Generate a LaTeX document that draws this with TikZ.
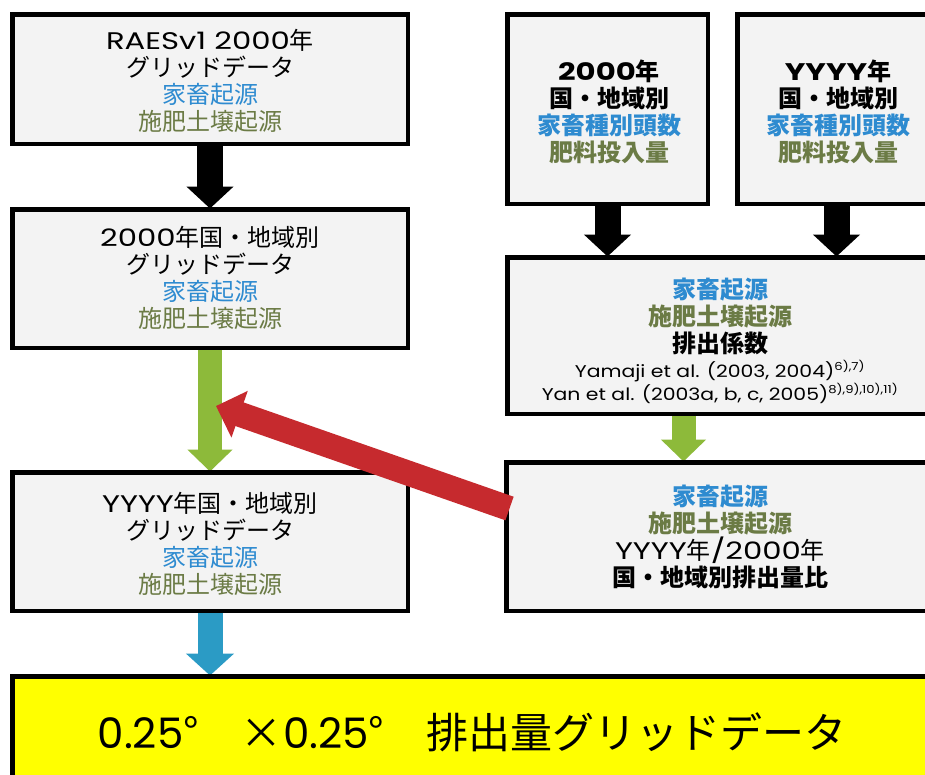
\documentclass[tikz,border=0pt]{standalone}
\usepackage{fontspec}
\usepackage{graphicx}
\setmainfont{Noto Sans CJK JP}
\newfontfamily\latf{Poppins}
\newfontfamily\reff[FakeStretch=1.2]{Poppins}
\newfontfamily\yelf{Poppins}
\newcommand{\lt}[1]{\scalebox{1.28}[1]{\latf #1}}
\usetikzlibrary{arrows.meta,calc}
\definecolor{cblue}{HTML}{2E8BD0}
\definecolor{colive}{HTML}{6B7B45}
\definecolor{boxgray}{HTML}{F3F3F3}
\definecolor{agreen}{HTML}{8DBA3A}
\definecolor{ablue}{HTML}{2B9BC5}
\definecolor{ared}{HTML}{C62A2E}
\definecolor{ayellow}{HTML}{FFFF00}
\newcommand{\bl}[1]{\textcolor{cblue}{#1}}
\newcommand{\ol}[1]{\textcolor{colive}{#1}}
\begin{document}
\begin{tikzpicture}[x=1pt,y=-1pt,
  box/.style={draw=black, line width=3pt, fill=boxgray, align=center, inner sep=0pt,
    font=\fontsize{24}{27}\selectfont},
  txt/.style={align=center, font=\fontsize{24}{27}\selectfont},
  bkarrow/.style={line width=26pt, black, -{Triangle[length=22pt, width=46pt]}},
  grarrow/.style={line width=24pt, agreen, -{Triangle[length=22pt, width=44pt]}},
  buarrow/.style={line width=25pt, ablue, -{Triangle[length=22pt, width=47pt]}},
  rdarrow/.style={line width=25pt, ared, -{Triangle[length=25pt, width=48pt]}}
]
\useasboundingbox (0,0) rectangle (925,774);
\clip (0,0) rectangle (925,774);
\fill[white] (0,0) rectangle (925,774);

% boxes
\path
  (210,79)    node[box, minimum width=394pt, minimum height=128pt] (A) {}
  (210,278.5) node[box, minimum width=394pt, minimum height=137pt] (B) {}
  (210,541.5) node[box, minimum width=394pt, minimum height=137pt] (C) {}
  (607.5,109) node[box, minimum width=199pt, minimum height=188pt] (D) {}
  (836.5,109) node[box, minimum width=197pt, minimum height=188pt] (E) {}
  (721.5,335.5) node[box, minimum width=427pt, minimum height=155pt] (F) {}
  (721,536.5) node[box, minimum width=428pt, minimum height=147pt] (G) {}
  (474,732)   node[box, fill=ayellow, minimum width=922pt, minimum height=110pt] (H) {};

% block arrows
\draw[bkarrow] (A.south) -- (A.south |- B.north);
\draw[bkarrow] (D.south) -- (D.south |- F.north);
\draw[bkarrow] (E.south) -- (E.south |- F.north);
\draw[grarrow] (B.south) -- (B.south |- C.north);
\draw[grarrow] ($(F.south west)+(177,0)$) -- ($(G.north west)+(178,0)$);
\draw[buarrow] (C.south) -- (C.south |- H.north);

% box borders redrawn on top of arrow shafts
\foreach \n in {A,B,C,D,E,F,G,H}{
  \draw[line width=3pt] (\n.south west) rectangle (\n.north east);
}

% texts
\node[txt] (At) at (210,81)
  {\lt{RAESv1 2000}年\\グリッドデータ\\\bl{家畜起源}\\\ol{施肥土壌起源}};
\node[txt] (Bt) at (210,278)
  {\lt{2000}年国・地域別\\グリッドデータ\\\bl{家畜起源}\\\ol{施肥土壌起源}};
\node[txt] (Ct) at (210,544)
  {\lt{YYYY}年国・地域別\\グリッドデータ\\\bl{家畜起源}\\\ol{施肥土壌起源}};
\node[txt, font=\fontsize{24}{27}\bfseries] (Dt) at (609,112)
  {\lt{2000}年\\国・地域別\\\bl{家畜種別頭数}\\\ol{肥料投入量}};
\node[txt, font=\fontsize{24}{27}\bfseries] (Et) at (838,112)
  {\lt{YYYY}年\\国・地域別\\\bl{家畜種別頭数}\\\ol{肥料投入量}};
\node[txt] (Ft) at (720,316)
  {\bl{\bfseries 家畜起源}\\\ol{\bfseries 施肥土壌起源}\\{\bfseries 排出係数}};
\node[align=center, font=\fontsize{17}{23}\reff] (Fr) at (720,382)
  {Yamaji et al. (2003, 2004)\textsuperscript{\fontsize{11}{11}\selectfont 6),7)}\\
   Yan et al. (2003a, b, c, 2005)\textsuperscript{\fontsize{11}{11}\selectfont 8),9),10),11)}};
\node[txt] (Gt) at (720,537)
  {\bl{\bfseries 家畜起源}\\\ol{\bfseries 施肥土壌起源}\\\lt{YYYY}年\lt{/2000}年\\{\bfseries 国・地域別排出量比}};
\node[font=\fontsize{42}{48}\selectfont] (Ht) at (472,732)
  {{\yelf 0.25}°\hspace{1em}×{\yelf 0.25}°\hspace{1em}排出量グリッドデータ};

% red arrow from the ratio box to the green arrow
\coordinate (redstart) at ($(G.north west)+(4,47)$);
\coordinate (redtip) at (216,406);
\draw[rdarrow] (redstart) -- (redtip);
\end{tikzpicture}
\end{document}
